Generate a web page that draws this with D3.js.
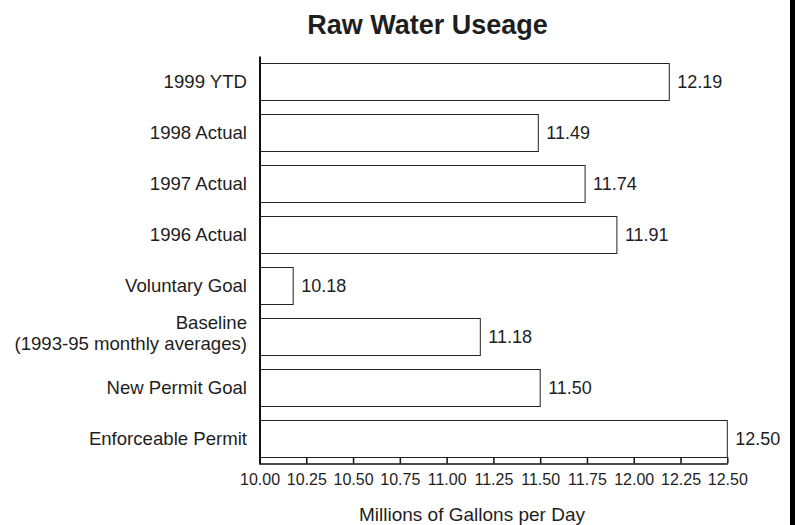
<!DOCTYPE html>
<html>
<head>
<meta charset="utf-8">
<script src="https://cdn.jsdelivr.net/npm/d3@7"></script>
<style>
    body { margin: 0; background: #fff; }
    #chart-area { width: 795px; height: 525px; }
    text { font-family: "Liberation Sans", Arial, sans-serif; fill: #1e1e1e; }
</style>
</head>
<body>
<div id="chart-area"></div>
<script>

// chart data
let categories = [
    "1999 YTD",
    "1998 Actual",
    "1997 Actual",
    "1996 Actual",
    "Voluntary Goal",
    "Baseline\n(1993-95 monthly averages)",
    "New Permit Goal",
    "Enforceable Permit"
];
let usage = [12.19, 11.49, 11.74, 11.91, 10.18, 11.18, 11.50, 12.50];
let xTicks = [10.00, 10.25, 10.50, 10.75, 11.00, 11.25, 11.50, 11.75, 12.00, 12.25, 12.50];
let xDomain = [10.00, 12.50];

let chartTitle = "Raw Water Useage";
let xTitle = "Millions of Gallons per Day";


class UsageVis {

    constructor(parentElement){
        this.parentElement = parentElement;
        this.data = categories.map((c, i) => ({name: c, value: usage[i]}));
        this.initVis();
    }

    initVis(){
        let vis = this;

        vis.width = 795;
        vis.height = 525;

        vis.svg = d3.select("#" + vis.parentElement).append("svg")
            .attr("width", vis.width)
            .attr("height", vis.height);

        // frame line on the right edge
        vis.svg.append("rect")
            .attr("x", 790)
            .attr("y", 0)
            .attr("width", 5)
            .attr("height", vis.height)
            .attr("fill", "#000");

        // scales
        vis.x = d3.scaleLinear()
            .domain(xDomain)
            .range([259.5, 727.3]);

        vis.y = d3.scaleBand()
            .domain(vis.data.map(d => d.name))
            .range([56, 464])
            .paddingInner(14 / 51)
            .paddingOuter(0.137);

        // title
        vis.svg.append("text")
            .attr("x", 427.5)
            .attr("y", 34)
            .attr("text-anchor", "middle")
            .attr("font-size", "27px")
            .attr("font-weight", "bold")
            .text(chartTitle);

        // bars
        vis.svg.selectAll(".bar")
            .data(vis.data)
            .join("rect")
            .attr("class", "bar")
            .attr("x", vis.x(xDomain[0]))
            .attr("y", d => Math.round(vis.y(d.name)) + 0.5)
            .attr("width", d => vis.x(d.value) - vis.x(xDomain[0]))
            .attr("height", Math.round(vis.y.bandwidth()))
            .attr("fill", "#fff")
            .attr("stroke", "#222")
            .attr("stroke-width", 1);

        // value labels
        vis.svg.selectAll(".value-label")
            .data(vis.data)
            .join("text")
            .attr("class", "value-label")
            .attr("x", d => vis.x(d.value) + 8)
            .attr("y", d => vis.y(d.name) + vis.y.bandwidth() / 2)
            .attr("dy", "0.36em")
            .attr("font-size", "18px")
            .text(d => d3.format(".2f")(d.value));

        // x axis
        vis.xAxis = d3.axisBottom(vis.x)
            .tickValues(xTicks)
            .tickFormat(d3.format(".2f"))
            .tickSizeInner(-6)
            .tickSizeOuter(0)
            .tickPadding(10);

        vis.xAxisGroup = vis.svg.append("g")
            .attr("class", "x-axis")
            .attr("transform", "translate(0, 463.5)")
            .call(vis.xAxis);

        vis.xAxisGroup.selectAll("text")
            .attr("font-size", "16px")
            .attr("font-family", "Liberation Sans, Arial, sans-serif")
            .attr("fill", "#1e1e1e");
        vis.xAxisGroup.selectAll("path, line")
            .attr("stroke", "#111")
            .attr("stroke-width", 1.5);

        // y axis (labels drawn by hand so the baseline label can wrap)
        vis.yAxis = d3.axisLeft(vis.y)
            .tickSize(0)
            .tickFormat("");

        vis.yAxisGroup = vis.svg.append("g")
            .attr("class", "y-axis")
            .attr("transform", "translate(259.5, 0)")
            .call(vis.yAxis);

        vis.yAxisGroup.select(".domain")
            .attr("stroke", "#111")
            .attr("stroke-width", 2);

        vis.svg.selectAll(".cat-label")
            .data(vis.data)
            .join("text")
            .attr("class", "cat-label")
            .attr("text-anchor", "end")
            .attr("font-size", "18.6px")
            .each(function(d){
                let lines = d.name.split("\n");
                let cy = vis.y(d.name) + vis.y.bandwidth() / 2;
                let el = d3.select(this);
                if (lines.length === 1) {
                    el.append("tspan")
                        .attr("x", 247)
                        .attr("y", cy)
                        .attr("dy", "0.36em")
                        .text(lines[0]);
                } else {
                    lines.forEach((l, i) => {
                        el.append("tspan")
                            .attr("x", 247)
                            .attr("y", cy - 7.5 + i * 21)
                            .text(l);
                    });
                }
            });

        // x axis title
        vis.svg.append("text")
            .attr("x", 472)
            .attr("y", 521)
            .attr("text-anchor", "middle")
            .attr("font-size", "19px")
            .text(xTitle);
    }
}

let usageVis = new UsageVis("chart-area");

</script>
</body>
</html>
